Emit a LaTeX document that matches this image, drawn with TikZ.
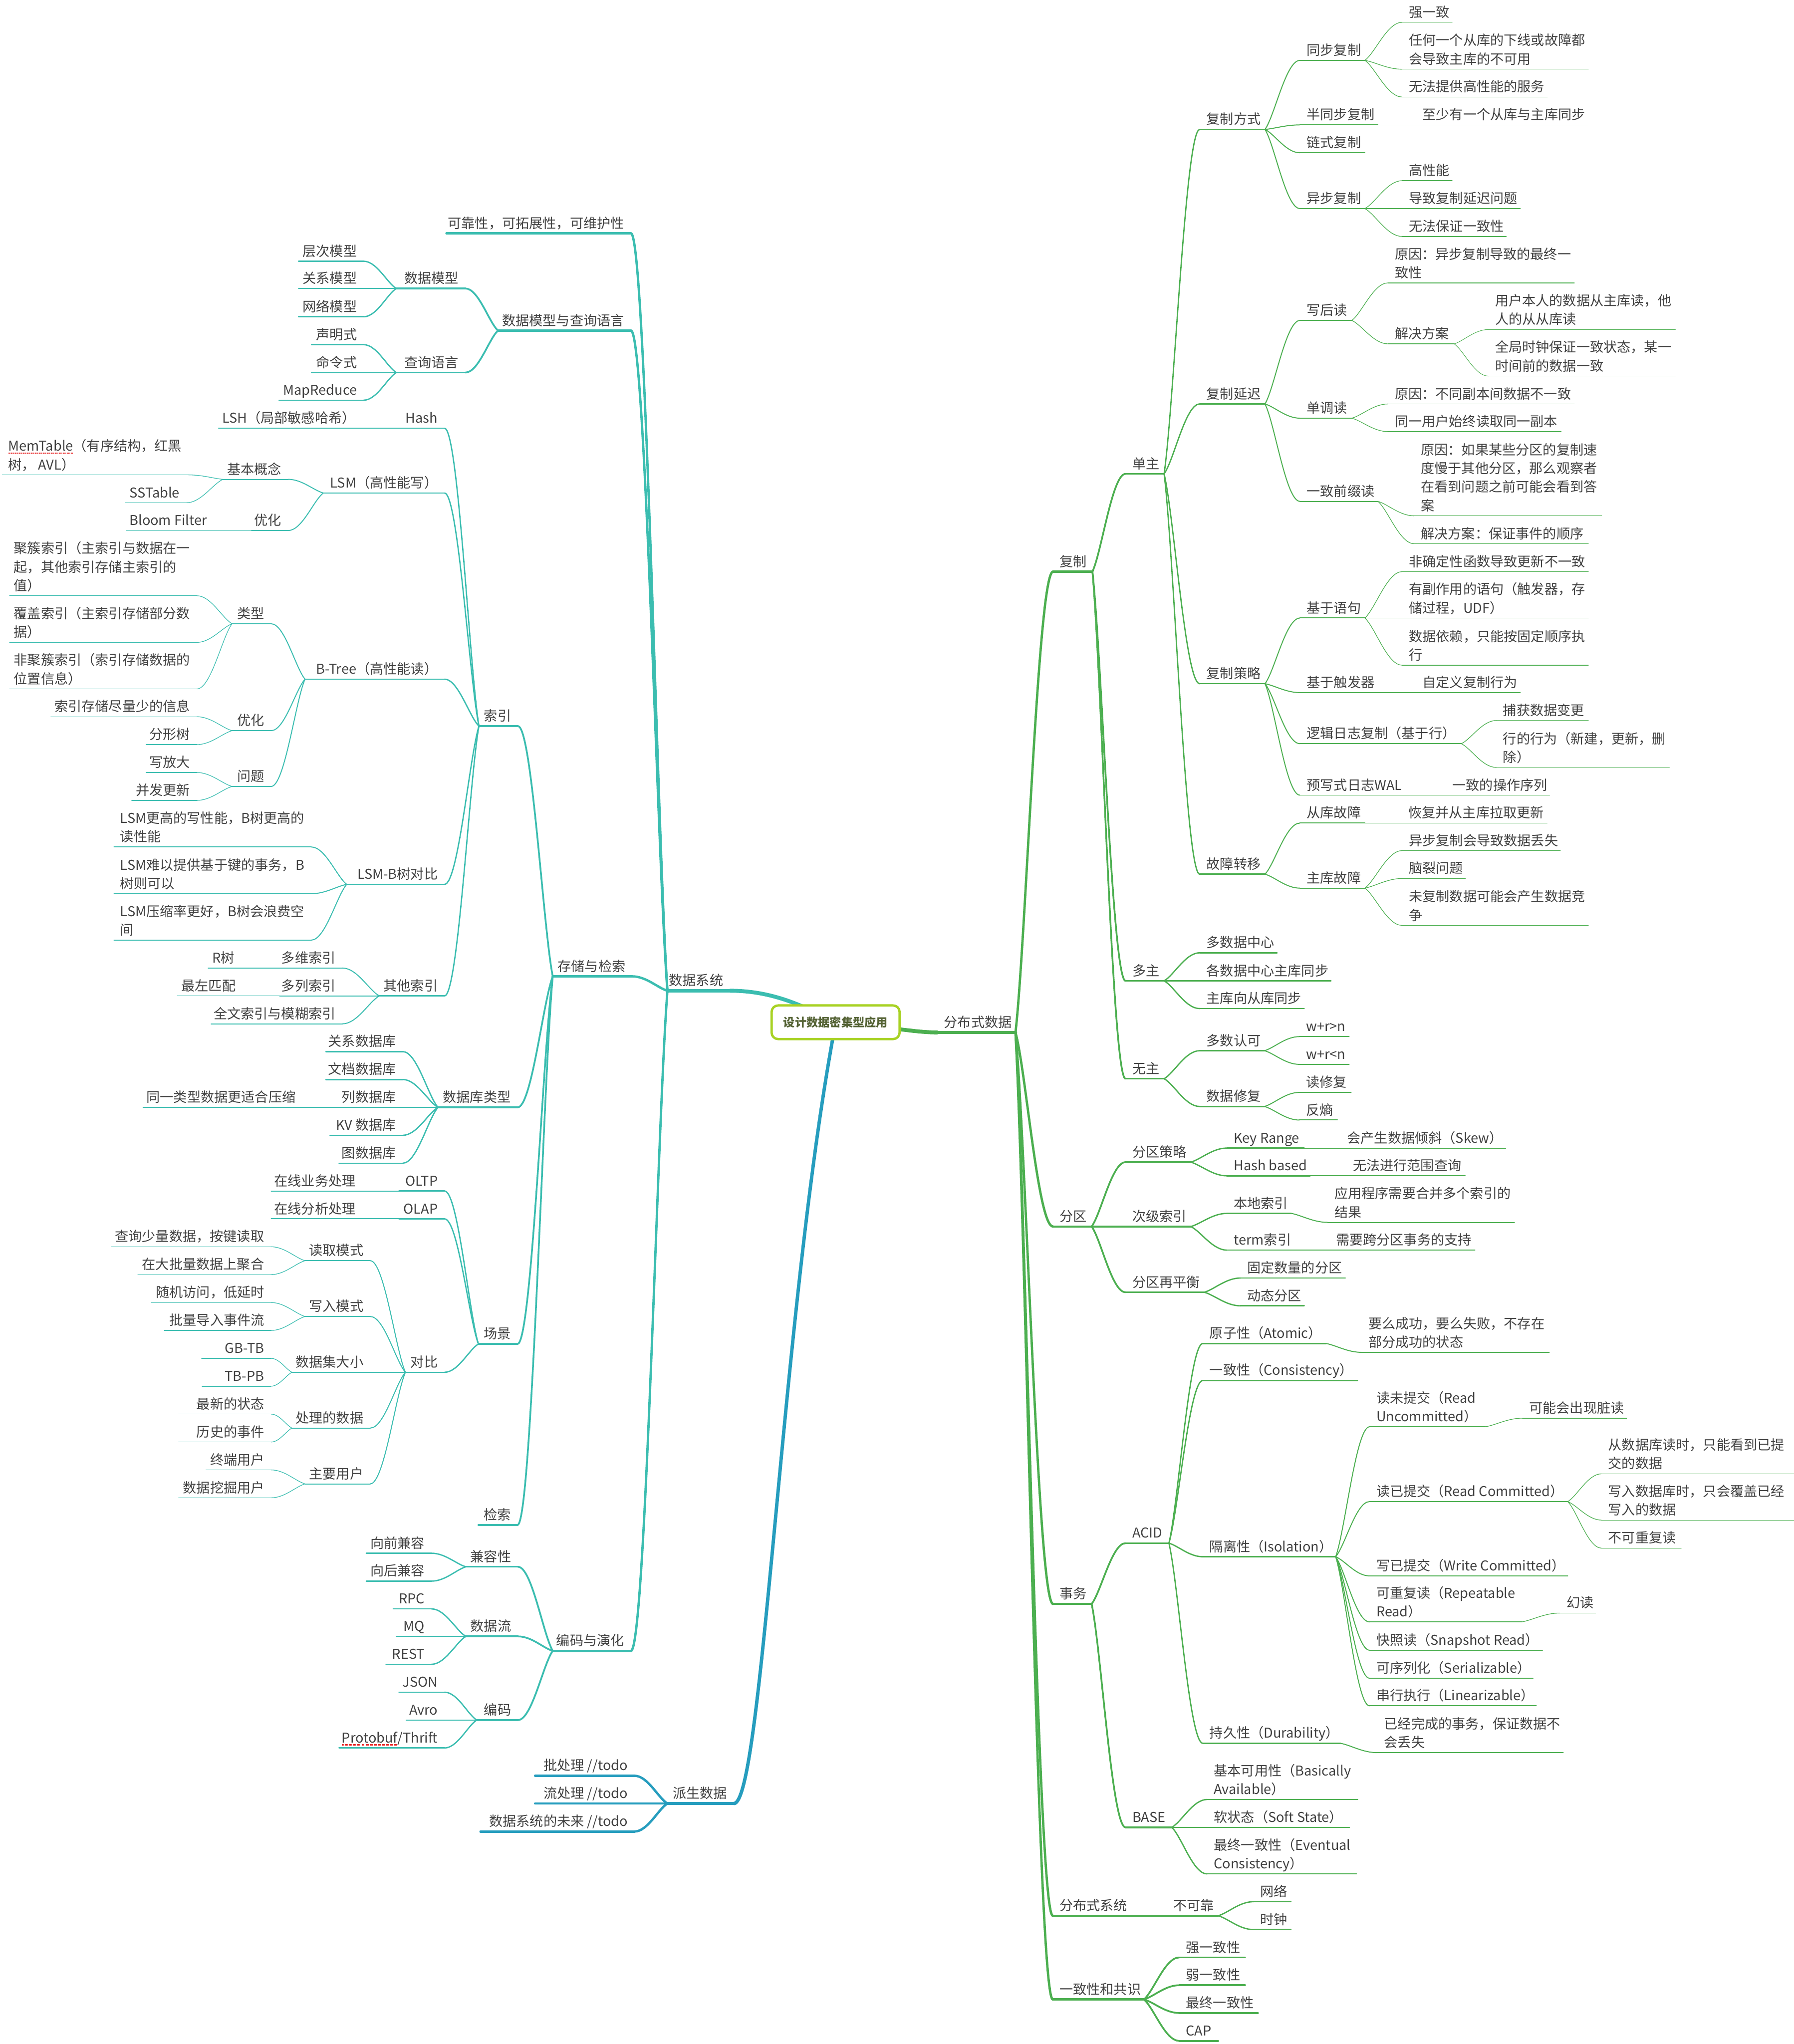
\documentclass[tikz,border=0pt]{standalone}
\usepackage{fontspec}
\setmainfont{Noto Sans CJK SC}
\usetikzlibrary{calc}
\definecolor{tealc}{RGB}{59,189,176}
\definecolor{greenc}{RGB}{76,175,80}
\definecolor{bluec}{RGB}{38,157,190}
\definecolor{rootc}{RGB}{168,210,36}
\definecolor{roottxt}{RGB}{84,98,52}
\definecolor{txtc}{RGB}{64,64,64}
\definecolor{sqred}{RGB}{232,40,40}
\newcommand\ml[1]{\begin{tabular}[b]{@{}l@{}}#1\end{tabular}}
\newsavebox\sqbox
\newcommand\sq[1]{\sbox\sqbox{#1}\rlap{\raisebox{-2.0pt}{\color{sqred}\xleaders\hbox to 1.0pt{\hss\rule{0.75pt}{0.8pt}\hss}\hskip\wd\sqbox}}\usebox\sqbox}
\tikzset{
  txt/.style={font=\fontsize{10.4}{14.3}\selectfont, text=txtc, inner sep=0pt},
  T/.style={draw=tealc, line cap=round}, G/.style={draw=greenc, line cap=round}, B/.style={draw=bluec, line cap=round},
  L1/.style={line width=2.6pt}, L2/.style={line width=1.8pt}, L3/.style={line width=1.35pt},
  L4/.style={line width=1.0pt}, L5/.style={line width=0.75pt}, L6/.style={line width=0.5pt}, L7/.style={line width=0.4pt}
}
% right-side topic: name, xl, xr, y, style, text
\newcommand\tpR[6]{%
  \coordinate (#1-l) at (#2,-#4);
  \coordinate (#1-r) at (#3,-#4);
  \draw[#5] (#1-l) -- (#1-r);
  \node[txt,anchor=base west] (#1) at ({#2+5},{-#4+4}) {\ml{#6}};}
% left-side topic
\newcommand\tpL[6]{%
  \coordinate (#1-l) at (#2,-#4);
  \coordinate (#1-r) at (#3,-#4);
  \draw[#5] (#1-l) -- (#1-r);
  \node[txt,anchor=base east] (#1) at ({#3-5},{-#4+4}) {\ml{#6}};}
\newcommand\cn[3]{\draw[#3] let \p1=(#1), \p2=(#2) in (\p1) .. controls ({\x1+0.28*(\x2-\x1)},{\y1+0.2*(\y2-\y1)}) and ({\x2-0.4*(\x2-\x1)},\y2) .. (\p2);}
\newcommand\cR[3]{\foreach \ch in {#3}{\cn{#1-r}{\ch-l}{#2}}}
\newcommand\cL[3]{\foreach \ch in {#3}{\cn{#1-l}{\ch-r}{#2}}}
\begin{document}
\begin{tikzpicture}[x=1pt,y=1pt]
\useasboundingbox (0,0) rectangle (1376,-1568);
% ================= right side: 分布式数据 =================
\tpR{fbsj}{719}{779}{792}{G,L1}{分布式数据}
\tpR{fz}{807.8}{838}{438.5}{G,L2}{复制}
\tpR{dz}{863.4}{893}{363.5}{G,L3}{单主}
\tpR{fzfs}{920.3}{970.4}{99.3}{G,L4}{复制方式}
\tpR{tbfz}{997.2}{1047}{46.3}{G,L5}{同步复制}
\tpR{qyz}{1075.6}{1114}{17.1}{G,L6}{强一致}
\tpR{rhyg}{1075.6}{1218.5}{53.1}{G,L6}{任何一个从库的下线或故障都\\会导致主库的不可用}
\tpR{wftg}{1075.6}{1187}{74.4}{G,L6}{无法提供高性能的服务}
\tpR{btbfz}{997.2}{1057}{95.8}{G,L5}{半同步复制}
\tpR{zsyyg}{1086}{1218.5}{95.8}{G,L6}{至少有一个从库与主库同步}
\tpR{lsfz}{997.2}{1047}{117.2}{G,L5}{链式复制}
\tpR{ybfz}{997.2}{1047}{160}{G,L5}{异步复制}
\tpR{gxn}{1075.6}{1114}{138.6}{G,L6}{高性能}
\tpR{dzfz}{1075.6}{1166.3}{160}{G,L6}{导致复制延迟问题}
\tpR{wfbz}{1075.6}{1155.5}{181.4}{G,L6}{无法保证一致性}
\tpR{fzyc}{920.3}{970.4}{309.9}{G,L4}{复制延迟}
\tpR{xhd}{997.2}{1037}{245.8}{G,L5}{写后读}
\tpR{yya}{1064.8}{1207.7}{217}{G,L6}{原因：异步复制导致的最终一\\致性}
\tpR{jjfa}{1064.8}{1115.5}{263.8}{G,L6}{解决方案}
\tpR{yhbr}{1141.7}{1285.2}{252.8}{G,L7}{用户本人的数据从主库读，他\\人的从从库读}
\tpR{qjsz}{1141.7}{1285.2}{288.5}{G,L7}{全局时钟保证一致状态，某一\\时间前的数据一致}
\tpR{ddd}{997.2}{1037}{320.8}{G,L5}{单调读}
\tpR{yyb}{1064.8}{1207.7}{309.9}{G,L6}{原因：不同副本间数据不一致}
\tpR{tyyh}{1064.8}{1197.6}{331.1}{G,L6}{同一用户始终读取同一副本}
\tpR{yzqz}{997.2}{1057}{384.6}{G,L5}{一致前缀读}
\tpR{yyc}{1084.8}{1228.7}{395.7}{G,L6}{原因：如果某些分区的复制速\\度慢于其他分区，那么观察者\\在看到问题之前可能会看到答\\案}
\tpR{jjfb}{1084.8}{1218.5}{417.1}{G,L6}{解决方案：保证事件的顺序}
\tpR{fzcl}{920.3}{970.4}{524.5}{G,L4}{复制策略}
\tpR{jyyj}{997.2}{1047}{474.1}{G,L5}{基于语句}
\tpR{fqdx}{1075.6}{1218.5}{438.5}{G,L6}{非确定性函数导致更新不一致}
\tpR{yfzy}{1075.6}{1218.5}{474.1}{G,L6}{有副作用的语句（触发器，存\\储过程，UDF）}
\tpR{sjyl}{1075.6}{1218.5}{510.3}{G,L6}{数据依赖，只能按固定顺序执\\行}
\tpR{jycfq}{997.2}{1057}{531.3}{G,L5}{基于触发器}
\tpR{zdy}{1086}{1166.3}{531.3}{G,L6}{自定义复制行为}
\tpR{ljrz}{997.2}{1121}{570.5}{G,L5}{逻辑日志复制（基于行）}
\tpR{bhsj}{1147.8}{1218.5}{552.7}{G,L6}{捕获数据变更}
\tpR{hdxw}{1147.8}{1280.6}{588.7}{G,L6}{行的行为（新建，更新，删\\除）}
\tpR{yxsrz}{997.2}{1080.2}{610}{G,L5}{预写式日志WAL}
\tpR{yzdcz}{1109}{1188.7}{610}{G,L6}{一致的操作序列}
\tpR{gzzy}{920.3}{970.4}{670.6}{G,L4}{故障转移}
\tpR{ckgz}{997.2}{1047}{631.4}{G,L5}{从库故障}
\tpR{hfbc}{1075.2}{1186.8}{631.4}{G,L6}{恢复并从主库拉取更新}
\tpR{zkgz}{997.2}{1047}{681.3}{G,L5}{主库故障}
\tpR{ybds}{1075.6}{1197}{652.5}{G,L6}{异步复制会导致数据丢失}
\tpR{nlwt}{1075.6}{1124.1}{673.9}{G,L6}{脑裂问题}
\tpR{wfzsj}{1075.6}{1218.5}{709.9}{G,L6}{未复制数据可能会产生数据竞\\争}
\tpR{dzb}{863.4}{893}{752.4}{G,L3}{多主}
\tpR{dsjzx}{920.3}{979.7}{730.9}{G,L4}{多数据中心}
\tpR{gsjzx}{920.3}{1021}{752.4}{G,L4}{各数据中心主库同步}
\tpR{zkxck}{920.3}{1000.5}{773.7}{G,L4}{主库向从库同步}
\tpR{wz}{863.4}{893}{827.5}{G,L3}{无主}
\tpR{dsrk}{920.3}{970}{806}{G,L4}{多数认可}
\tpR{wrgn}{996.8}{1035}{795.2}{G,L5}{w+r>n}
\tpR{wrln}{996.8}{1035}{816.5}{G,L5}{w+r<n}
\tpR{sjxf}{920.3}{970}{848.8}{G,L4}{数据修复}
\tpR{dxf}{996.8}{1036.5}{838}{G,L5}{读修复}
\tpR{fsh}{996.8}{1026}{859.2}{G,L5}{反熵}
\tpR{fq}{807.8}{837.4}{940.9}{G,L2}{分区}
\tpR{fqcl}{863.4}{913.4}{891.5}{G,L3}{分区策略}
\tpR{kr}{941.2}{1000.5}{880.7}{G,L4}{Key Range}
\tpR{hcs}{1028.2}{1155.1}{880.7}{G,L5}{会产生数据倾斜（Skew）}
\tpR{hb}{941.2}{1005}{902}{G,L4}{Hash based}
\tpR{wfjx}{1032.6}{1124}{902}{G,L5}{无法进行范围查询}
\tpR{cjsy}{863.4}{913.4}{940.9}{G,L3}{次级索引}
\tpR{bdsy}{941.2}{990.5}{930.8}{G,L4}{本地索引}
\tpR{yycx}{1018.5}{1161.8}{937.7}{G,L5}{应用程序需要合并多个索引的\\结果}
\tpR{termsy}{941.2}{990.5}{959}{G,L4}{term索引}
\tpR{xykfq}{1019.6}{1131.4}{959}{G,L5}{需要跨分区事务的支持}
\tpR{fqzph}{863.4}{923.8}{991.3}{G,L3}{分区再平衡}
\tpR{gdsl}{951.5}{1032}{980.4}{G,L4}{固定数量的分区}
\tpR{dtfq}{951.5}{1000.5}{1001.7}{G,L4}{动态分区}
\tpR{sw}{807.8}{837.4}{1230.4}{G,L2}{事务}
\tpR{acid}{863.4}{896.7}{1183.8}{G,L3}{ACID}
\tpR{yzx}{922.7}{1017.2}{1030.6}{G,L4}{原子性（Atomic）}
\tpR{ymcg}{1044.5}{1188.5}{1037.4}{G,L5}{要么成功，要么失败，不存在\\部分成功的状态}
\tpR{yzxc}{922.7}{1041.3}{1059}{G,L4}{一致性（Consistency）}
\tpR{glx}{922.7}{1024.6}{1194.2}{G,L4}{隔离性（Isolation）}
\tpR{dwtj}{1050.6}{1139.5}{1094.5}{G,L5}{读未提交（Read\\Uncommitted）}
\tpR{knhcx}{1167.9}{1247.8}{1087.9}{G,L6}{可能会出现脏读}
\tpR{dytj}{1050.6}{1202.6}{1151.9}{G,L5}{读已提交（Read Committed）}
\tpR{csjkd}{1228.5}{1376}{1130.6}{G,L6}{从数据库读时，只能看到已提\\交的数据}
\tpR{xrsjk}{1228.5}{1376}{1166.1}{G,L6}{写入数据库时，只会覆盖已经\\写入的数据}
\tpR{bkcfd}{1228.5}{1289.7}{1187.6}{G,L6}{不可重复读}
\tpR{xytj}{1050.6}{1202.6}{1208.9}{G,L5}{写已提交（Write Committed）}
\tpR{kcfd}{1050.6}{1167.3}{1244.2}{G,L5}{可重复读（Repeatable\\Read）}
\tpR{hdu}{1196.5}{1224}{1237.4}{G,L6}{幻读}
\tpR{kzd}{1050.6}{1183.3}{1265.9}{G,L5}{快照读（Snapshot Read）}
\tpR{kxlh}{1050.6}{1176}{1287.4}{G,L5}{可序列化（Serializable）}
\tpR{cxzx}{1050.6}{1178.5}{1308.6}{G,L5}{串行执行（Linearizable）}
\tpR{cjx}{922.7}{1028.3}{1337.3}{G,L4}{持久性（Durability）}
\tpR{yjwc}{1056.6}{1199.2}{1344.5}{G,L5}{已经完成的事务，保证数据不\\会丢失}
\tpR{bse}{863.4}{898.9}{1401.8}{G,L3}{BASE}
\tpR{jbky}{926}{1041.5}{1380.4}{G,L4}{基本可用性（Basically\\Available）}
\tpR{rzt}{926}{1035.2}{1401.8}{G,L4}{软状态（Soft State）}
\tpR{zzyz}{926}{1040.6}{1437.5}{G,L4}{最终一致性（Eventual\\Consistency）}
\tpR{fbsxt}{807.6}{866.7}{1469.6}{G,L2}{分布式系统}
\tpR{bkk}{895}{934.5}{1469.6}{G,L3}{不可靠}
\tpR{wlu}{961.6}{990.2}{1458.8}{G,L4}{网络}
\tpR{szh}{961.6}{990.2}{1480.2}{G,L4}{时钟}
\tpR{yzxgs}{807.6}{877.5}{1533.8}{G,L2}{一致性和共识}
\tpR{qyzx}{904.6}{955.1}{1501.6}{G,L3}{强一致性}
\tpR{ryzx}{904.6}{955.1}{1522.9}{G,L3}{弱一致性}
\tpR{zzyzb}{904.6}{965}{1544.2}{G,L3}{最终一致性}
\tpR{cap}{904.6}{934.5}{1565.6}{G,L3}{CAP}
% ================= left side: 数据系统 =================
\tpL{sjxt}{512}{560}{760}{T,L1}{数据系统}
\tpL{kkx}{342.5}{484}{179}{T,L2}{可靠性，可拓展性，可维护性}
\tpL{sjmx}{382}{484}{253.6}{T,L2}{数据模型与查询语言}
\tpL{sjmxa}{304}{357}{221.3}{T,L3}{数据模型}
\tpL{ccmx}{229}{279}{200.4}{T,L4}{层次模型}
\tpL{gxmx}{229}{279}{221.3}{T,L4}{关系模型}
\tpL{wlmx}{229}{279}{243}{T,L4}{网络模型}
\tpL{cxyy}{304}{357}{285.8}{T,L3}{查询语言}
\tpL{smz}{239}{279}{264.4}{T,L4}{声明式}
\tpL{mlz}{239}{279}{285.8}{T,L4}{命令式}
\tpL{mr}{214}{279}{307}{T,L4}{MapReduce}
\tpL{ccyjs}{424}{485}{749}{T,L2}{存储与检索}
\tpL{sy}{367.4}{397.3}{557}{T,L3}{索引}
\tpL{hash}{309}{341}{328.5}{T,L4}{Hash}
\tpL{lsh}{167.6}{278}{328.5}{T,L5}{LSH（局部敏感哈希）}
\tpL{lsm}{248}{341}{378.2}{T,L4}{LSM（高性能写）}
\tpL{jbgn}{171}{221}{367.7}{T,L5}{基本概念}
\tpL{memt}{1.7}{144.6}{364.3}{T,L6}{\sq{MemTable}（有序结构，红黑\\树， AVL）}
\tpL{sst}{96}{143}{385.7}{T,L6}{SSTable}
\tpL{yha}{193}{221}{407}{T,L5}{优化}
\tpL{bf}{97}{164}{407}{T,L6}{Bloom Filter}
\tpL{btree}{234}{341}{521}{T,L4}{B-Tree（高性能读）}
\tpL{lx}{178}{208}{478.5}{T,L5}{类型}
\tpL{jcsy}{7.3}{151}{457}{T,L6}{聚簇索引（主索引与数据在一\\起，其他索引存储主索引的\\值）}
\tpL{fgsy}{7.3}{151}{492.8}{T,L6}{覆盖索引（主索引存储部分数\\据）}
\tpL{fjcsy}{7.3}{151}{528.5}{T,L6}{非聚簇索引（索引存储数据的\\位置信息）}
\tpL{yhb}{178}{208}{560.5}{T,L5}{优化}
\tpL{sycc}{39}{151}{549.8}{T,L6}{索引存储尽量少的信息}
\tpL{fxs}{112}{151}{571.2}{T,L6}{分形树}
\tpL{wt}{178}{208}{603.3}{T,L5}{问题}
\tpL{xfd}{112}{151}{592.6}{T,L6}{写放大}
\tpL{bfgx}{101}{151}{614}{T,L6}{并发更新}
\tpL{lsmb}{266}{341}{678.4}{T,L4}{LSM-B树对比}
\tpL{lsma}{87.4}{238.7}{649.7}{T,L5}{LSM更高的写性能，B树更高的\\读性能}
\tpL{lsmc}{87.4}{238.7}{685.6}{T,L5}{LSM难以提供基于键的事务，B\\树则可以}
\tpL{lsmd}{87.4}{238.7}{721.2}{T,L5}{LSM压缩率更好，B树会浪费空\\间}
\tpL{qtsy}{291}{341}{764}{T,L4}{其他索引}
\tpL{dwsy}{214.5}{262.7}{742.6}{T,L5}{多维索引}
\tpL{rs}{159.6}{185}{742.6}{T,L6}{R树}
\tpL{dlsy}{214.5}{262.7}{764}{T,L5}{多列索引}
\tpL{zzpp}{136}{186}{764}{T,L6}{最左匹配}
\tpL{qwsy}{162}{262.7}{785.4}{T,L5}{全文索引与模糊索引}
\tpL{sjklx}{336}{397}{849.5}{T,L3}{数据库类型}
\tpL{gxsjk}{250}{309}{806.7}{T,L4}{关系数据库}
\tpL{wdsjk}{250}{309}{828.1}{T,L4}{文档数据库}
\tpL{lsjk}{260}{309}{849.5}{T,L4}{列数据库}
\tpL{tylx}{109.7}{232}{849.5}{T,L5}{同一类型数据更适合压缩}
\tpL{kvsjk}{253}{309}{870.9}{T,L4}{KV 数据库}
\tpL{tsjk}{260}{309}{892.3}{T,L4}{图数据库}
\tpL{cj}{367}{397}{1031}{T,L3}{场景}
\tpL{oltp}{306}{341}{913.6}{T,L4}{OLTP}
\tpL{zxyw}{208}{278}{913.6}{T,L5}{在线业务处理}
\tpL{olap}{306}{341}{935}{T,L4}{OLAP}
\tpL{zxfx}{208}{278}{935}{T,L5}{在线分析处理}
\tpL{dbi}{311}{341}{1052.7}{T,L4}{对比}
\tpL{dqms}{234}{284}{967.1}{T,L5}{读取模式}
\tpL{cxsl}{85.5}{207.8}{956.4}{T,L6}{查询少量数据，按键读取}
\tpL{zdpl}{105.7}{207.8}{977.8}{T,L6}{在大批量数据上聚合}
\tpL{xrms}{234}{284}{1009.9}{T,L5}{写入模式}
\tpL{sjfw}{116}{208}{999.2}{T,L6}{随机访问，低延时}
\tpL{pldr}{126}{208}{1020.6}{T,L6}{批量导入事件流}
\tpL{sjjdx}{224}{284}{1052.7}{T,L5}{数据集大小}
\tpL{gbtb}{154.6}{207.8}{1042}{T,L6}{GB-TB}
\tpL{tbpb}{155}{207.8}{1063.4}{T,L6}{TB-PB}
\tpL{clsj}{224}{284}{1095.5}{T,L5}{处理的数据}
\tpL{zxzt}{137}{208}{1084.8}{T,L6}{最新的状态}
\tpL{lssj}{137}{208}{1106.2}{T,L6}{历史的事件}
\tpL{zyyh}{234}{284}{1138.3}{T,L5}{主要用户}
\tpL{zdyh}{158}{208}{1127.6}{T,L6}{终端用户}
\tpL{sjwj}{137}{208}{1149}{T,L6}{数据挖掘用户}
\tpL{jsu}{367}{397}{1169.8}{T,L3}{检索}
\tpL{bmyyh}{424}{484}{1266.4}{T,L2}{编码与演化}
\tpL{jrx}{357.4}{397.3}{1201.9}{T,L3}{兼容性}
\tpL{xqjr}{281}{331}{1191.5}{T,L4}{向前兼容}
\tpL{xhjr}{281}{331}{1212.9}{T,L4}{向后兼容}
\tpL{sjl}{357.4}{397.3}{1255.3}{T,L3}{数据流}
\tpL{rpc}{301.6}{331}{1234.2}{T,L4}{RPC}
\tpL{mq}{304}{331}{1255.3}{T,L4}{MQ}
\tpL{rest}{296}{331}{1276.7}{T,L4}{REST}
\tpL{bm}{365.7}{397.3}{1319.5}{T,L3}{编码}
\tpL{json}{306}{341}{1298.1}{T,L4}{JSON}
\tpL{avro}{311.6}{341}{1319.5}{T,L4}{Avro}
\tpL{pb}{260}{341}{1340.9}{T,L4}{\sq{Protobuf}/Thrift}
% ================= left bottom: 派生数据 =================
\tpL{psj}{512}{563}{1383.5}{B,L1}{派生数据}
\tpL{pcl}{410.5}{486.7}{1362.2}{B,L2}{批处理 //todo}
\tpL{lcl}{410.5}{486.7}{1383.5}{B,L2}{流处理 //todo}
\tpL{wlai}{368.6}{486.7}{1405}{B,L2}{数据系统的未来 //todo}
% ================= connectors =================
\cR{fbsj}{G,L2}{fz,fq,sw,fbsxt,yzxgs}
\cR{fz}{G,L3}{dz,dzb,wz}
\cR{dz}{G,L4}{fzfs,fzyc,fzcl,gzzy}
\cR{fzfs}{G,L5}{tbfz,btbfz,lsfz,ybfz}
\cR{tbfz}{G,L6}{qyz,rhyg,wftg}
\cR{btbfz}{G,L6}{zsyyg}
\cR{ybfz}{G,L6}{gxn,dzfz,wfbz}
\cR{fzyc}{G,L5}{xhd,ddd,yzqz}
\cR{xhd}{G,L6}{yya,jjfa}
\cR{jjfa}{G,L7}{yhbr,qjsz}
\cR{ddd}{G,L6}{yyb,tyyh}
\cR{yzqz}{G,L6}{yyc,jjfb}
\cR{fzcl}{G,L5}{jyyj,jycfq,ljrz,yxsrz}
\cR{jyyj}{G,L6}{fqdx,yfzy,sjyl}
\cR{jycfq}{G,L6}{zdy}
\cR{ljrz}{G,L6}{bhsj,hdxw}
\cR{yxsrz}{G,L6}{yzdcz}
\cR{gzzy}{G,L5}{ckgz,zkgz}
\cR{ckgz}{G,L6}{hfbc}
\cR{zkgz}{G,L6}{ybds,nlwt,wfzsj}
\cR{dzb}{G,L4}{dsjzx,gsjzx,zkxck}
\cR{wz}{G,L4}{dsrk,sjxf}
\cR{dsrk}{G,L5}{wrgn,wrln}
\cR{sjxf}{G,L5}{dxf,fsh}
\cR{fq}{G,L3}{fqcl,cjsy,fqzph}
\cR{fqcl}{G,L4}{kr,hb}
\cR{kr}{G,L5}{hcs}
\cR{hb}{G,L5}{wfjx}
\cR{cjsy}{G,L4}{bdsy,termsy}
\cR{bdsy}{G,L5}{yycx}
\cR{termsy}{G,L5}{xykfq}
\cR{fqzph}{G,L4}{gdsl,dtfq}
\cR{sw}{G,L3}{acid,bse}
\cR{acid}{G,L4}{yzx,yzxc,glx,cjx}
\cR{yzx}{G,L5}{ymcg}
\cR{glx}{G,L5}{dwtj,dytj,xytj,kcfd,kzd,kxlh,cxzx}
\cR{dwtj}{G,L6}{knhcx}
\cR{dytj}{G,L6}{csjkd,xrsjk,bkcfd}
\cR{kcfd}{G,L6}{hdu}
\cR{cjx}{G,L5}{yjwc}
\cR{bse}{G,L4}{jbky,rzt,zzyz}
\cR{fbsxt}{G,L3}{bkk}
\cR{bkk}{G,L4}{wlu,szh}
\cR{yzxgs}{G,L3}{qyzx,ryzx,zzyzb,cap}
\cL{sjxt}{T,L2}{kkx,sjmx,ccyjs,bmyyh}
\cL{sjmx}{T,L3}{sjmxa,cxyy}
\cL{sjmxa}{T,L4}{ccmx,gxmx,wlmx}
\cL{cxyy}{T,L4}{smz,mlz,mr}
\cL{ccyjs}{T,L3}{sy,sjklx,cj,jsu}
\cL{sy}{T,L4}{hash,lsm,btree,lsmb,qtsy}
\cL{hash}{T,L5}{lsh}
\cL{lsm}{T,L5}{jbgn,yha}
\cL{jbgn}{T,L6}{memt,sst}
\cL{yha}{T,L6}{bf}
\cL{btree}{T,L5}{lx,yhb,wt}
\cL{lx}{T,L6}{jcsy,fgsy,fjcsy}
\cL{yhb}{T,L6}{sycc,fxs}
\cL{wt}{T,L6}{xfd,bfgx}
\cL{lsmb}{T,L5}{lsma,lsmc,lsmd}
\cL{qtsy}{T,L5}{dwsy,dlsy,qwsy}
\cL{dwsy}{T,L6}{rs}
\cL{dlsy}{T,L6}{zzpp}
\cL{sjklx}{T,L4}{gxsjk,wdsjk,lsjk,kvsjk,tsjk}
\cL{lsjk}{T,L5}{tylx}
\cL{cj}{T,L4}{oltp,olap,dbi}
\cL{oltp}{T,L5}{zxyw}
\cL{olap}{T,L5}{zxfx}
\cL{dbi}{T,L5}{dqms,xrms,sjjdx,clsj,zyyh}
\cL{dqms}{T,L6}{cxsl,zdpl}
\cL{xrms}{T,L6}{sjfw,pldr}
\cL{sjjdx}{T,L6}{gbtb,tbpb}
\cL{clsj}{T,L6}{zxzt,lssj}
\cL{zyyh}{T,L6}{zdyh,sjwj}
\cL{bmyyh}{T,L3}{jrx,sjl,bm}
\cL{jrx}{T,L4}{xqjr,xhjr}
\cL{sjl}{T,L4}{rpc,mq,rest}
\cL{bm}{T,L4}{json,avro,pb}
\cL{psj}{B,L2}{pcl,lcl,wlai}
% ================= root =================
\coordinate (rc) at (641,-785);
\draw[G,line width=3pt] (rc) .. controls (680,-787) and (700,-792) .. (fbsj-l);
\draw[T,line width=3pt] (sjxt-r) .. controls (590,-760) and (615,-770) .. (rc);
\draw[B,line width=2.6pt] (psj-r) .. controls (585,-1383.5) and (600,-1000) .. (rc);
\node[draw=rootc, line width=1.8pt, rounded corners=5pt, fill=white, minimum width=98.2pt, minimum height=25.8pt, inner sep=0pt, font=\fontsize{8.9}{10}\selectfont\bfseries, text=roottxt] (root) at (641,-784.2) {设计数据密集型应用};
\end{tikzpicture}
\end{document}
